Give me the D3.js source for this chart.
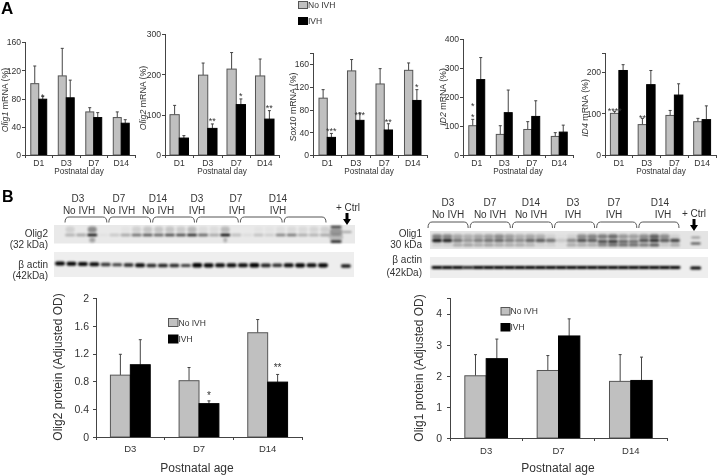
<!DOCTYPE html>
<html><head><meta charset="utf-8">
<script src="https://cdn.jsdelivr.net/npm/d3@7/dist/d3.min.js"></script>
<style>
html,body{margin:0;padding:0;background:#fff}
svg{display:block;filter:blur(0.3px)}
text{font-family:"Liberation Sans",Arial,sans-serif;fill:#333}
</style></head><body>
<svg id="c" width="720" height="475"></svg>
<script>
// ---------- data ----------
const days = ["D1","D3","D7","D14"];
const ages = ["D3","D7","D14"];
const series = ["No IVH","IVH"];

const olig1Grey=[101,112,61,53], olig1GreyTop=[126,151,67,61], olig1Black=[79,81,53,45], olig1BlackTop=[83,106,60,50];
const olig2Grey=[100,198,213,196], olig2GreyTop=[123,228,254,238], olig2Black=[42,66,125,89], olig2BlackTop=[48,77,139,110];
const sox10Grey=[100,148,125,149], sox10GreyTop=[115,168,152,162], sox10Black=[31,61,44,96], sox10BlackTop=[38,74,55,115];
const id2Grey=[101,71,88,64], id2GreyTop=[123,101,115,77], id2Black=[260,146,133,79], id2BlackTop=[336,224,187,103];
const id4Grey=[100,73,95,80], id4GreyTop=[105,88,107,88], id4Black=[203,169,144,85], id4BlackTop=[217,203,171,118];

const protO2Grey=[0.89,0.81,1.5], protO2GreyTop=[1.19,1.0,1.69], protO2Black=[1.04,0.48,0.79], protO2BlackTop=[1.4,0.52,0.9];
const protO1Grey=[2.0,2.17,1.82], protO1GreyTop=[2.68,2.65,2.68], protO1Black=[2.55,3.28,1.85], protO1BlackTop=[3.18,3.83,2.6];

// blot densities per lane, 0..1
const blotO2Main=[0,.25,.3,.95,.03,.15,.3,.55,.65,.6,.7,.7,.85,.6,.3,1,.2,.05,.18,.12,.45,.5,.28,.25,.3];
const blotO2Upper=[0,.1,0,.4,0,0,.02,.1,.15,.15,.15,.12,.2,.05,.05,.2,0,0,.02,.02,.04,.06,.06,.08,.1];
const blotO2Actin=[.9,.9,.85,.85,.55,.5,.65,.85,.65,.7,.65,.5,1,.9,.85,.85,.85,1,.7,.6,.85,.95,.85,.9];
const blotO1Main=[.9,.85,.5,.35,.45,.5,.55,.45,.4,.55,.6,.5,.12,.4,.65,.6,.65,.75,.55,.5,.65,.8,.6,.7];
const blotO1Upper=[.6,.55,.35,.3,.35,.4,.5,.4,.3,.35,.3,.1,.02,.1,.5,.55,.6,.7,.45,.4,.5,.75,.5,.1];
const blotO1Lower=[.1,.1,.3,.35,.3,.35,.3,.3,.3,.25,.1,.1,.02,.3,.3,.3,.5,.6,.6,.6,.55,.7,.15,.3];
const blotO1Actin=[.9,.95,.8,.75,.8,.8,.8,.85,.95,.95,.95,.85,.85,.85,.9,.85,.85,.9,.95,.9,.9,.9,.9,.9];

const gelGroups=[["D3","No IVH"],["D7","No IVH"],["D14","No IVH"],["D3","IVH"],["D7","IVH"],["D14","IVH"]];

// ---------- helpers ----------
const svg=d3.select("#c");
const defs=svg.append("defs");
[["b1",.8],["b2",1.2],["b3",1.9]].forEach(([id,s])=>{
  defs.append("filter").attr("id",id).attr("x","-60%").attr("y","-200%").attr("width","220%").attr("height","500%")
   .append("feGaussianBlur").attr("stdDeviation",s);
});
const AXC="#444";
function styleAxis(g,fs){
  g.selectAll("path,line").attr("stroke",AXC).attr("stroke-width",1).attr("shape-rendering","crispEdges");
  g.selectAll("text").attr("font-size",fs).attr("fill","#333").style("font-family",'"Liberation Sans",Arial,sans-serif');
}
function barPanel(o){
  const g=svg.append("g");
  const x=d3.scaleBand().domain(o.cats).range([o.left,o.right]).paddingInner(o.pad).paddingOuter(o.pad/2);
  const sub=d3.scaleBand().domain(series).range([0,x.bandwidth()]);
  const y=d3.scaleLinear().domain([0,o.max]).range([o.bottom,o.top]);
  const rows=[[series[0],o.grey,o.greyTop,"#c0c0c0"],[series[1],o.black,o.blackTop,"#000"]];
  rows.forEach(([s,v,top,col])=>{
    g.selectAll(null).data(o.cats).join("line")
      .attr("x1",c=>x(c)+sub(s)+sub.bandwidth()/2).attr("x2",c=>x(c)+sub(s)+sub.bandwidth()/2)
      .attr("y1",(c,i)=>y(v[i])).attr("y2",(c,i)=>y(top[i])).attr("stroke","#444").attr("stroke-width",1);
    g.selectAll(null).data(o.cats).join("line")
      .attr("x1",c=>x(c)+sub(s)+sub.bandwidth()/2-1.5).attr("x2",c=>x(c)+sub(s)+sub.bandwidth()/2+1.5)
      .attr("y1",(c,i)=>y(top[i])).attr("y2",(c,i)=>y(top[i])).attr("stroke","#444").attr("stroke-width",1);
    g.selectAll(null).data(o.cats).join("rect")
      .attr("x",c=>x(c)+sub(s)).attr("width",sub.bandwidth())
      .attr("y",(c,i)=>y(v[i])).attr("height",(c,i)=>y(0)-y(v[i]))
      .attr("fill",col).attr("stroke",col==="#000"?"#000":"#555").attr("stroke-width",1);
  });
  const ya=g.append("g").attr("transform",`translate(${o.left},0)`)
    .call(d3.axisLeft(y).tickValues(o.ticks).tickFormat(o.fmt||d3.format("d")).tickSizeOuter(0).tickSize(3).tickPadding(o.tickPad||1));
  styleAxis(ya,o.fs);
  const xa=g.append("g").attr("transform",`translate(0,${o.bottom})`)
    .call(d3.axisBottom(x).tickSize(0).tickPadding(o.xPad||4));
  styleAxis(xa,o.xfs||o.fs);
  const step=x.step();
  d3.range(o.cats.length+1).forEach(i=>{
    const px=o.left+i*step;
    g.append("line").attr("x1",px).attr("x2",px).attr("y1",o.bottom).attr("y2",o.bottom+3)
     .attr("stroke",AXC).attr("shape-rendering","crispEdges");
  });
  const t=g.append("text").attr("transform",`translate(${o.titleX},${o.titleY}) rotate(-90)`)
    .attr("text-anchor","middle").attr("font-size",o.tfs);
  if(o.ital) t.append("tspan").attr("font-style","italic").text(o.ital);
  t.append("tspan").text(o.title);
  g.append("text").attr("x",o.xlX).attr("y",o.xlY).attr("text-anchor","middle").attr("font-size",o.xlfs).text(o.xlabel);
  (o.stars||[]).forEach(([cat,s,txt,dy])=>{
    const i=o.cats.indexOf(cat), top=s===series[0]?o.greyTop:o.blackTop;
    g.append("text").attr("x",x(cat)+sub(s)+sub.bandwidth()/2).attr("y",y(top[i])+(dy||0)+2)
     .attr("text-anchor","middle").attr("font-size",o.sfs||10).text(txt);
  });
}
function legend(x,y1,y2,w,h,fs,tdx){
  [[series[0],y1,"#c0c0c0"],[series[1],y2,"#000"]].forEach(([s,y,c])=>{
    svg.append("rect").attr("x",x).attr("y",y).attr("width",w).attr("height",h).attr("fill",c).attr("stroke",c==="#000"?"#000":"#555");
    svg.append("text").attr("x",x+w+tdx).attr("y",y+h-1).attr("font-size",fs).text(s);
  });
}
function band(g,cx,cy,w,h,d,flt){
  g.append("rect").attr("x",cx-w/2).attr("y",cy-h/2).attr("width",w).attr("height",h).attr("rx",h/2)
   .attr("fill","#000").attr("opacity",d).attr("filter",`url(#${flt})`);
}
function bracket(g,x0,x1,y0,y1){
  const r=3;
  g.append("path").attr("fill","none").attr("stroke","#555").attr("stroke-width",1)
   .attr("d",`M${x0},${y1}Q${x0},${y0} ${x0+r+1},${y0}L${x1-r-1},${y0}Q${x1},${y0} ${x1},${y1}`);
}
function arrow(x,y0,y1){
  svg.append("path").attr("fill","#000")
   .attr("d",`M${x-1.5},${y0}L${x+1.5},${y0}L${x+1.5},${y1-6}L${x+4},${y1-6}L${x},${y1}L${x-4},${y1-6}L${x-1.5},${y1-6}Z`);
}
function labels(list,fs){
  list.forEach(([t,x,y,a])=>svg.append("text").attr("x",x).attr("y",y).attr("text-anchor",a||"middle").attr("font-size",fs).text(t));
}

// ---------- panel letters & top legend ----------
svg.append("text").attr("x",1).attr("y",14).attr("font-size",17).attr("font-weight","bold").style("fill","#000").text("A");
svg.append("text").attr("x",2).attr("y",202).attr("font-size",16).attr("font-weight","bold").style("fill","#000").text("B");
legend(298.5,1.5,17.5,9,7,8.5,0.5);

// ---------- panel A ----------
const A={cats:days,bottom:155,fs:8.6,tfs:8.8,xlfs:8.2,xlY:174,xlabel:"Postnatal day",xPad:5,sfs:9};
barPanel({...A,left:25,right:135,top:42,max:160,pad:.42,ticks:[0,40,80,120,160],grey:olig1Grey,greyTop:olig1GreyTop,black:olig1Black,blackTop:olig1BlackTop,
  ital:"Olig1",title:" mRNA (%)",titleX:8,titleY:100,xlX:79,stars:[["D1","IVH","*",2]]});
barPanel({...A,left:165,right:279,top:34,max:300,pad:.35,ticks:[0,100,200,300],grey:olig2Grey,greyTop:olig2GreyTop,black:olig2Black,blackTop:olig2BlackTop,
  ital:"Olig2",title:" mRNA (%)",titleX:146,titleY:98,xlX:222,stars:[["D3","IVH","**",-2],["D7","IVH","*",-2],["D14","IVH","**",-2]]});
barPanel({...A,left:313,right:427,top:53,max:179.5,pad:.42,ticks:[0,40,80,120,160],grey:sox10Grey,greyTop:sox10GreyTop,black:sox10Black,blackTop:sox10BlackTop,
  ital:"Sox10",title:" mRNA (%)",titleX:296,titleY:107,xlX:369,stars:[["D1","IVH","***",-1],["D3","IVH","***",3],["D7","IVH","**",-1],["D14","IVH","*",-2]]});
barPanel({...A,left:463,right:573,top:39,max:400,pad:.42,ticks:[0,100,200,300,400],grey:id2Grey,greyTop:id2GreyTop,black:id2Black,blackTop:id2BlackTop,
  ital:"ID2",title:" mRNA (%)",titleX:446,titleY:97,xlX:518,stars:[["D1","No IVH","*",-1],["D1","No IVH","*",-12]]});
barPanel({...A,left:605,right:716,top:53,max:245,pad:.39,ticks:[0,100,200],grey:id4Grey,greyTop:id4GreyTop,black:id4Black,blackTop:id4BlackTop,
  ital:"ID4",title:" mRNA (%)",titleX:588,titleY:108,xlX:661,stars:[["D1","No IVH","****",1],["D3","No IVH","**",1]]});

// ---------- panel B charts ----------
barPanel({cats:ages,left:96,right:302,bottom:437,top:298,max:2,pad:.42,ticks:[0,.4,.8,1.2,1.6,2],fmt:d=>d===0||d===2?String(d):d3.format(".1f")(d),
  fs:10.5,xfs:9.5,xPad:8,tickPad:4,tfs:12,xlfs:12,grey:protO2Grey,greyTop:protO2GreyTop,black:protO2Black,blackTop:protO2BlackTop,
  title:"Olig2 protein (Adjusted OD)",titleX:62,titleY:367,xlX:197,xlY:472,xlabel:"Postnatal age",sfs:10,stars:[["D7","IVH","*",-4],["D14","IVH","**",-5]]});
barPanel({cats:ages,left:450,right:667,bottom:438,top:298,max:4.5,pad:.41,ticks:[0,1,2,3,4],
  fs:10.5,xfs:9.5,xPad:9,tickPad:5,tfs:12,xlfs:12,grey:protO1Grey,greyTop:protO1GreyTop,black:protO1Black,blackTop:protO1BlackTop,
  title:"Olig1 protein (Adjusted OD)",titleX:423,titleY:368,xlX:558,xlY:472,xlabel:"Postnatal age"});
legend(168.5,318.5,335,9.5,8,8.5,0.5);
legend(501,307.5,323.5,9,7.5,8.5,0.5);

// ---------- blot Olig2 ----------
const laneA=d3.scaleLinear().domain([0,23]).range([60,323]);
const laneA2=d3.scaleLinear().domain([0,24]).range([59,325]);
const gA=svg.append("g");
const ga1=gA.append("g");
ga1.append("rect").attr("x",54).attr("y",225).attr("width",301).attr("height",18.5).attr("fill","#e9e9e9");
blotO2Upper.forEach((d,i)=>{ if(d>0) band(ga1,laneA2(i),229.5,9,6,d,"b1"); });
blotO2Main.forEach((d,i)=>{ if(d>0) band(ga1,laneA2(i),235,10,2.6,d,"b1"); });
band(ga1,laneA2(3),240,6,5,.3,"b1");
band(ga1,laneA2(15),240,4,5,.25,"b1");
band(ga1,laneA2(25),227,11,2.5,.75,"b1");
band(ga1,laneA2(25),232,13,7,.35,"b2");
band(ga1,laneA2(25),241.5,11,2.5,.9,"b1");
band(ga1,laneA2(25),237,14,6,.2,"b2");
band(ga1,laneA2(26),232,9,2,.3,"b1");
const ga2=gA.append("g");
ga2.append("rect").attr("x",54).attr("y",252).attr("width",300).attr("height",25).attr("fill","#eeeeee");
blotO2Actin.forEach((d,i)=>band(ga2,laneA(i),263.5+Math.min(i,8)*.25+(i>11?-.2:0),10,2+d*2.4,.45+d*.6,"b1"));
band(ga2,laneA(25),266,10,3.5,.9,"b1");

const brA=d3.scaleBand().domain(d3.range(6)).range([65,328]);
gelGroups.forEach((d,i)=>bracket(gA,brA(i),brA(i)+brA.bandwidth()-2,217,222.5));
labels([["D3",78,202],["No IVH",79,214],["D7",119,202],["No IVH",119,214],["D14",158,202],["No IVH",158,214],
        ["D3",197,202],["IVH",197,214],["D7",236,202],["IVH",237,214],["D14",278,202],["IVH",278,214],["+ Ctrl",348,211]],10);
labels([["Olig2",48,237,"end"],["(32 kDa)",48,248,"end"],["β actin",48,268,"end"],["(42kDa)",48,279,"end"]],10);
arrow(347,213,225);

// ---------- blot Olig1 ----------
const laneB=d3.scaleLinear().domain([0,23]).range([437,675]);
const gB=svg.append("g");
const gb1=gB.append("g");
gb1.append("rect").attr("x",430).attr("y",231).attr("width",278).attr("height",18).attr("fill","#e4e4e4");
blotO1Upper.forEach((d,i)=>{ if(d>0) band(gb1,laneB(i),236.5,10,4.5,d*.75,"b2"); });
blotO1Main.forEach((d,i)=>band(gb1,laneB(i),i>=16&&i<20?241.5:240.5,10,3.5,d,"b2"));
blotO1Lower.forEach((d,i)=>{ if(d>0) band(gb1,laneB(i),245,10,3,d*.9,"b2"); });
band(gb1,laneB(25),237.5,9,1.6,.45,"b1");
band(gb1,laneB(25),243.5,10,2.2,.7,"b1");
const gb2=gB.append("g");
gb2.append("rect").attr("x",430).attr("y",257).attr("width",278).attr("height",21).attr("fill","#eeeeee");
blotO1Actin.forEach((d,i)=>band(gb2,laneB(i),267.5,11,1.6+d*1.5,.6+d*.5,"b1"));
band(gb2,laneB(25),268,11,3,1,"b1");

const brB=d3.scaleBand().domain(d3.range(6)).range([428,681]);
gelGroups.forEach((d,i)=>bracket(gB,brB(i),brB(i)+brB.bandwidth()-2,222,228));
labels([["D3",448,206],["No IVH",448,218],["D7",490,206],["No IVH",490,218],["D14",531,206],["No IVH",531,218],
        ["D3",573,206],["IVH",573,218],["D7",614,206],["IVH",614,218],["D14",660,206],["IVH",663,218],["+ Ctrl",694,217]],10);
labels([["Olig1",422,237,"end"],["30 kDa",422,248,"end"],["β actin",422,263,"end"],["(42kDa)",422,276,"end"]],10);
arrow(694,219,231);
</script>
</body></html>
